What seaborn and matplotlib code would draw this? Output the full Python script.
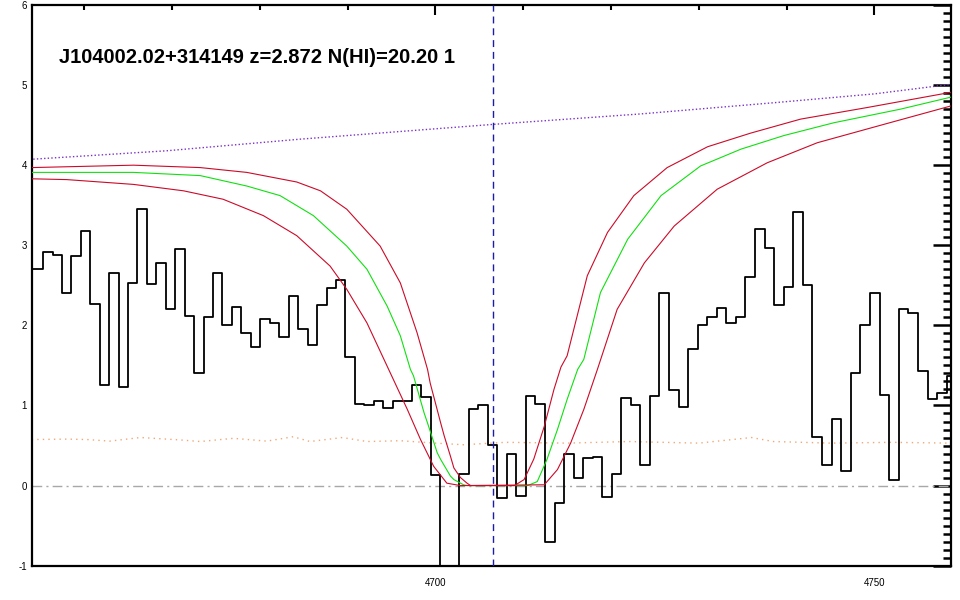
import matplotlib
matplotlib.use("Agg")
import matplotlib.pyplot as plt
import seaborn as sns
from matplotlib.ticker import MultipleLocator, FixedLocator

# observed spectrum (pixel centres, Angstrom) and flux
wave = [4653.71, 4654.78, 4655.86, 4656.93, 4658.00, 4659.07, 4660.15, 4661.22, 4662.29, 4663.37,
        4664.44, 4665.51, 4666.59, 4667.66, 4668.74, 4669.81, 4670.89, 4671.96, 4673.04, 4674.12,
        4675.19, 4676.27, 4677.35, 4678.42, 4679.50, 4680.58, 4681.66, 4682.73, 4683.81, 4684.89,
        4685.97, 4687.05, 4688.13, 4689.21, 4690.29, 4691.37, 4692.45, 4693.53, 4694.61, 4695.69,
        4696.77, 4697.85, 4698.94, 4700.02, 4701.10, 4702.18, 4703.27, 4704.35, 4705.43, 4706.52,
        4707.60, 4708.68, 4709.77, 4710.85, 4711.94, 4713.02, 4714.11, 4715.19, 4716.28, 4717.36,
        4718.45, 4719.54, 4720.62, 4721.71, 4722.80, 4723.89, 4724.97, 4726.06, 4727.15, 4728.24,
        4729.33, 4730.42, 4731.50, 4732.59, 4733.68, 4734.77, 4735.86, 4736.95, 4738.04, 4739.14,
        4740.23, 4741.32, 4742.41, 4743.50, 4744.59, 4745.69, 4746.78, 4747.87, 4748.97, 4750.06,
        4751.15, 4752.25, 4753.34, 4754.44, 4755.53, 4756.62, 4757.72, 4758.82]
flux = [2.71, 2.71, 2.91, 2.875, 2.41, 2.86, 3.18, 2.27, 1.26, 2.66,
        1.23, 2.53, 3.45, 2.52, 2.78, 2.20, 2.95, 2.12, 1.40, 2.10,
        2.66, 2.00, 2.23, 1.91, 1.73, 2.08, 2.03, 1.86, 2.37, 1.96,
        1.75, 2.25, 2.47, 2.57, 1.60, 1.02, 1.01, 1.05, 0.97, 1.06,
        1.06, 1.26, 1.10, 0.13, -1.5, -1.5, 0.15, 0.95, 1.00, 0.51,
        -0.16, 0.39, -0.13, 1.12, 1.02, -0.70, -0.22, 0.39, 0.10, 0.35,
        0.36, -0.14, 0.15, 1.09, 1.00, 0.26, 1.12, 2.40, 1.19, 0.98,
        1.70, 2.01, 2.11, 2.22, 2.03, 2.10, 2.60, 3.20, 2.97, 2.25,
        2.48, 3.42, 2.50, 0.61, 0.26, 0.83, 0.18, 1.40, 2.01, 2.40,
        1.13, 0.07, 2.20, 2.15, 1.43, 1.08, 1.15, 1.37]

# error array (orange dots)
err_wave = [4654.0, 4658.0, 4660.3, 4662.9, 4666.4, 4670.9, 4673.2, 4677.0, 4680.8, 4683.8,
            4685.7, 4689.4, 4692.2, 4696.0, 4700.0, 4703.2, 4708.0, 4715.0, 4722.0, 4730.0,
            4736.0, 4738.5, 4745.0, 4752.0, 4758.7]
err = [0.575, 0.58, 0.575, 0.555, 0.60, 0.57, 0.55, 0.59, 0.555, 0.61,
       0.55, 0.60, 0.55, 0.56, 0.53, 0.51, 0.54, 0.53, 0.55, 0.53,
       0.60, 0.55, 0.53, 0.54, 0.53]

# continuum (purple dots)
cont_wave = [4654.18, 4669.40, 4684.60, 4706.65, 4723.41, 4738.59, 4750.0, 4758.74]
cont = [4.075, 4.18, 4.325, 4.51, 4.64, 4.78, 4.89, 5.01]

# DLA model, best fit (green)
fit_wave = [4654.0, 4665.6, 4673.2, 4678.5, 4682.3, 4686.1, 4689.9, 4692.2, 4694.5, 4696.0,
            4697.15, 4697.5, 4698.7, 4699.1, 4700.2, 4700.6, 4701.7, 4702.1, 4703.2, 4703.6,
            4710.5, 4711.6, 4712.7, 4713.9, 4715.0, 4716.2, 4716.9, 4718.8, 4721.9, 4725.7,
            4730.2, 4734.8, 4739.7, 4745.4, 4753.0, 4758.74]
fit = [3.91, 3.91, 3.87, 3.74, 3.62, 3.37, 2.99, 2.70, 2.24, 1.87,
       1.45, 1.37, 0.91, 0.78, 0.41, 0.325, 0.12, 0.075, 0.01, 0.0,
       0.0, 0.05, 0.325, 0.70, 1.075, 1.45, 1.575, 2.41, 3.075, 3.62,
       3.99, 4.20, 4.37, 4.53, 4.70, 4.85]

# DLA model, lower N(HI) (upper red)
lo_wave = [4654.0, 4665.6, 4673.2, 4678.5, 4684.2, 4686.9, 4689.9, 4693.7, 4696.0, 4697.9,
           4699.1, 4699.4, 4700.6, 4701.0, 4701.7, 4702.1, 4702.85, 4703.6, 4704.0,
           4709.0, 4710.1, 4711.2, 4712.4, 4713.5, 4714.3, 4715.0, 4717.3, 4719.6, 4722.6,
           4726.4, 4731.0, 4735.9, 4741.6, 4749.2, 4758.74]
lo = [3.97, 4.00, 3.97, 3.91, 3.79, 3.68, 3.45, 2.99, 2.53, 1.91,
      1.45, 1.28, 0.78, 0.62, 0.37, 0.22, 0.10, 0.03, 0.0,
      0.0, 0.075, 0.33, 0.74, 1.20, 1.48, 1.62, 2.62, 3.16, 3.62,
      3.97, 4.23, 4.40, 4.575, 4.72, 4.91]

# DLA model, higher N(HI) (lower red)
hi_wave = [4654.0, 4658.0, 4665.6, 4671.3, 4675.8, 4680.4, 4684.2, 4688.0, 4689.9, 4692.2,
           4694.5, 4696.8, 4698.3, 4699.8, 4701.3, 4702.85,
           4712.4, 4713.9, 4715.4, 4716.9, 4718.45, 4720.7, 4723.8, 4727.2, 4732.1,
           4737.8, 4743.5, 4751.1, 4758.74]
hi = [3.83, 3.82, 3.76, 3.68, 3.575, 3.37, 3.12, 2.74, 2.45, 2.03,
      1.49, 0.95, 0.575, 0.24, 0.03, 0.0,
      0.01, 0.20, 0.53, 0.95, 1.45, 2.20, 2.78, 3.24, 3.70,
      4.03, 4.28, 4.51, 4.74]

lya_obs = 4706.6
title = "J104002.02+314149 z=2.872 N(HI)=20.20 1"

sns.set_style("white")
plt.rcParams['font.family'] = ['Liberation Sans', 'DejaVu Sans']
plt.rcParams['text.color'] = 'black'
plt.rcParams['xtick.color'] = 'black'
plt.rcParams['ytick.color'] = 'black'
plt.rcParams['axes.unicode_minus'] = False

fig = plt.figure(figsize=(9.6, 6), dpi=100)
ax = fig.add_axes([0.033, 0.0572, 0.9573, 0.9345])

ax.axhline(0, color='#a8a8a8', lw=1, ls=(0, (7, 3, 1.5, 3)), zorder=1)
sns.lineplot(x=err_wave, y=err, color='#f0a878', lw=1, ls=(0, (1, 3)), ax=ax, zorder=1)
sns.lineplot(x=cont_wave, y=cont, color='#7a30c8', lw=1, ls=(0, (1, 1.6)), ax=ax, zorder=2)
sns.lineplot(x=wave, y=flux, color='black', lw=1.3, drawstyle='steps-mid', ax=ax, zorder=3)
sns.lineplot(x=fit_wave, y=fit, color='#10e010', lw=0.8, ax=ax, zorder=4)
sns.lineplot(x=lo_wave, y=lo, color='#cc0a28', lw=0.8, ax=ax, zorder=5)
sns.lineplot(x=hi_wave, y=hi, color='#cc0a28', lw=0.8, ax=ax, zorder=5)
ax.axvline(lya_obs, color='#1c1ca8', lw=1, ls=(0, (5, 3.5)), zorder=6)

ax.text(4657.1, 5.275, title, fontsize=14.5, fontweight='bold', va='baseline', ha='left',
        color='black')

ax.set_xlim(4654.0, 4758.7)
ax.set_ylim(-1, 6)
ax.xaxis.set_major_locator(FixedLocator([4700, 4750]))
ax.xaxis.set_minor_locator(MultipleLocator(10))
ax.yaxis.set_major_locator(MultipleLocator(1))
ax.yaxis.set_minor_locator(MultipleLocator(0.1))
ax.tick_params(which='both', direction='in', top=True, right=True, colors='black')
ax.tick_params(axis='y', which='major', length=13, width=1.8, labelsize=7, pad=3.5)
ax.tick_params(axis='y', which='minor', length=5.8, width=1.8)
ax.tick_params(axis='x', which='major', length=7.5, width=1.5, labelsize=7, pad=9)
ax.tick_params(axis='x', which='minor', length=3.6, width=1.5)
ax.set_xlabel('')
ax.set_ylabel('')
for s in ax.spines.values():
    s.set_linewidth(1.6)
    s.set_color('black')

fig.savefig('out.png', dpi=100)
